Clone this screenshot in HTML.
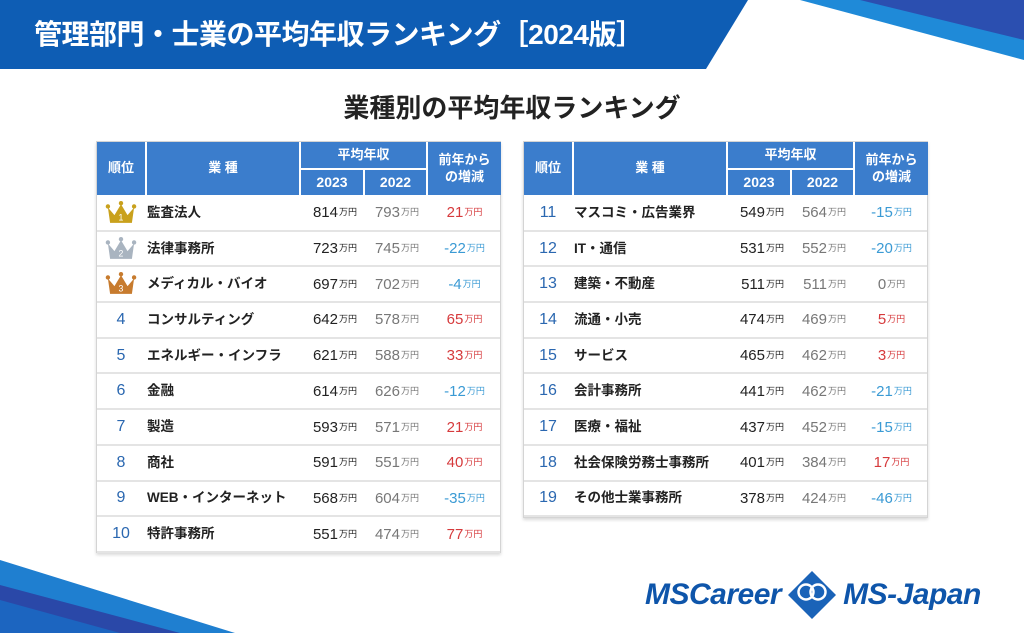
<!DOCTYPE html>
<html><head><meta charset="utf-8">
<style>
*{margin:0;padding:0;box-sizing:border-box}
body{width:1024px;height:633px;overflow:hidden;background:#fff;position:relative;font-family:"Liberation Sans","Noto Sans CJK JP",sans-serif}
.abs{position:absolute}
.tbl{position:absolute;border:1px solid #d4d4d4;box-shadow:0 2px 3px rgba(0,0,0,.15);background:#fff}
.hc{position:absolute;background:#3b7dcc;color:#fff;font-weight:bold;display:flex;align-items:center;justify-content:center;text-align:center;line-height:1.25}
.row{position:absolute;left:0;right:0;border-bottom:2px solid #e4e4e4}
.cell{position:absolute;top:0;height:100%;display:flex;align-items:center;line-height:1}
.u{font-size:9px;margin-left:1px}
</style></head><body>
<svg class="abs" style="left:0;top:0" width="1024" height="633">
<polygon points="0,0 748,0 706,69 0,69" fill="#0e5db4"/>
<polygon points="800,0 1024,0 1024,60" fill="#1f8ad8"/>
<polygon points="860,0 1024,0 1024,40" fill="#2b4fb0"/>
<polygon points="0,560 235,633 0,633" fill="#1f7fd0"/>
<polygon points="0,585 180,633 0,633" fill="#2a48a8"/>
<polygon points="0,600 120,633 0,633" fill="#1c65c0"/>
</svg>
<div class="abs" style="left:34px;top:13px;color:#fff;font-size:28px;font-weight:bold;letter-spacing:-0.5px">管理部門・士業の平均年収ランキング［2024版］</div>
<div class="abs" style="left:0;width:1024px;top:88px;text-align:center;color:#222;font-size:26px;font-weight:bold">業種別の平均年収ランキング</div>
<div id="t1" class="tbl" style="left:96px;top:141px;width:405px;height:412px"></div>
<div id="t2" class="tbl" style="left:523px;top:141px;width:405px;height:377px"></div>
<div class="abs" style="left:645px;top:571px;height:48px;display:flex;align-items:center;font-style:italic;font-weight:bold;color:#0e55aa;font-size:30px;letter-spacing:-0.5px">
<span>MSCareer</span>
<svg width="50" height="50" style="margin:0 6px"><polygon points="25,1 49,25 25,49 1,25" fill="#1a63b8"/><circle cx="19" cy="22" r="7.5" fill="none" stroke="#fff" stroke-width="2.5"/><circle cx="31" cy="22" r="7.5" fill="none" stroke="#fff" stroke-width="2.5"/></svg>
<span>MS-Japan</span></div>
<script>
const ranks=[1,2,3,4,5,6,7,8,9,10,11,12,13,14,15,16,17,18,19];
const industries=["監査法人","法律事務所","メディカル・バイオ","コンサルティング","エネルギー・インフラ","金融","製造","商社","WEB・インターネット","特許事務所","マスコミ・広告業界","IT・通信","建築・不動産","流通・小売","サービス","会計事務所","医療・福祉","社会保険労務士事務所","その他士業事務所"];
const salary2023=[814,723,697,642,621,614,593,591,568,551,549,531,511,474,465,441,437,401,378];
const salary2022=[793,745,702,578,588,626,571,551,604,474,564,552,511,469,462,462,452,384,424];
const changes=[21,-22,-4,65,33,-12,21,40,-35,77,-15,-20,0,5,3,-21,-15,17,-46];
const crownColors=["#c9a11c","#a9b4c0","#c77b2e"];
function build(t,start,end){
  const hd=[[0,0,48,53,"順位"],[50,0,152,53,"業 種"],[204,0,125,26,"平均年収"],[204,28,62,25,"2023"],[268,28,61,25,"2022"],[331,0,73,53,"前年から<br>の増減"]];
  hd.forEach(h=>{const d=document.createElement('div');d.className='hc';
    
    
    d.style.cssText=`left:${h[0]}px;top:${h[1]}px;width:${h[2]}px;height:${h[3]}px;font-size:${h[4][0]=='2'?14:13}px`;d.innerHTML=h[4];t.appendChild(d);});
  const rh=35.7;
  for(let i=start;i<end;i++){
    const r=document.createElement('div');r.className='row';
    
    
    r.style.top=(54+(i-start)*rh)+'px';r.style.height=rh+'px';
    let rk;
    if(i<3){rk=`<svg width="32" height="24" viewBox="0 0 28 22"><polygon points="2,6 8,13 14,3 20,13 26,6 24,20 4,20" fill="${crownColors[i]}"/><circle cx="2" cy="5" r="2" fill="${crownColors[i]}"/><circle cx="14" cy="2" r="2" fill="${crownColors[i]}"/><circle cx="26" cy="5" r="2" fill="${crownColors[i]}"/><text x="14" y="18" font-size="8" text-anchor="middle" fill="#fff">${ranks[i]}</text></svg>`;}
    else rk=`<span style="color:#2a67b0;font-size:16px">${ranks[i]}</span>`;
    const c=changes[i];const col=c>0?'#d63a3c':(c<0?'#3a9ad4':'#777');
    r.innerHTML=`<div class="cell" style="left:0;width:48px;justify-content:center">${rk}</div>
<div class="cell" style="left:50px;width:154px;font-size:13.5px;font-weight:bold;color:#222;line-height:20px">${industries[i]}</div>
<div class="cell" style="left:204px;width:56px;justify-content:flex-end;font-size:15px;color:#222">${salary2023[i]}<span class="u">万円</span></div>
<div class="cell" style="left:268px;width:54px;justify-content:flex-end;font-size:15px;color:#777">${salary2022[i]}<span class="u">万円</span></div>
<div class="cell" style="left:331px;width:73px;justify-content:center;font-size:15px;color:${col}">${c}<span class="u">万円</span></div>`;
    t.appendChild(r);
  }
}
build(document.getElementById('t1'),0,10);
build(document.getElementById('t2'),10,19);
</script>
</body></html>
